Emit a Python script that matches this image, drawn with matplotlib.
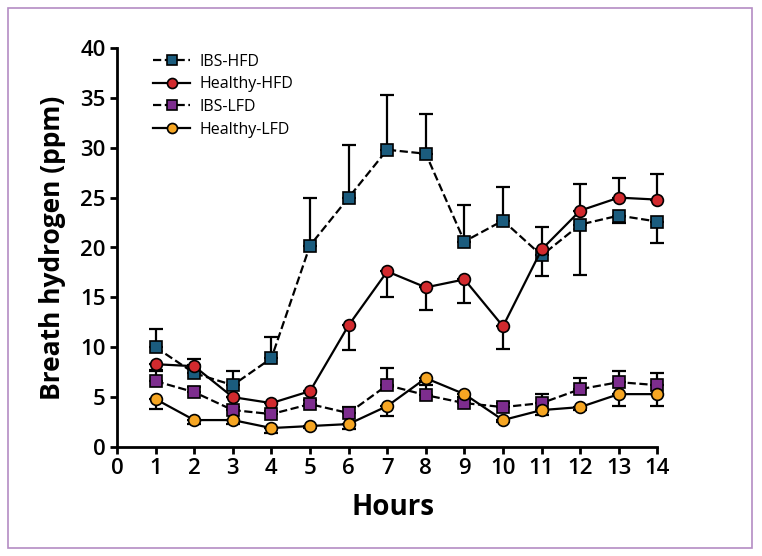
import numpy as np
import matplotlib
matplotlib.use('Agg')
import matplotlib.pyplot as plt
from matplotlib.patches import Rectangle

hours = [1, 2, 3, 4, 5, 6, 7, 8, 9, 10, 11, 12, 13, 14]

ibs_hfd = [10.0, 7.4, 6.2, 8.9, 20.2, 25.0, 29.8, 29.4, 20.6, 22.7, 19.2, 22.3, 23.2, 22.6]
ibs_hfd_lo = [0, 0, 0, 0, 0, 0, 0, 0, 0, 0, 2.1, 5.1, 0.7, 2.1]
ibs_hfd_hi = [1.8, 0.8, 1.4, 2.1, 4.8, 5.3, 5.5, 4.0, 3.7, 3.4, 0, 0, 0, 0]

healthy_hfd = [8.3, 8.1, 5.0, 4.4, 5.6, 12.2, 17.6, 16.0, 16.8, 12.1, 19.8, 23.7, 25.0, 24.8]
healthy_hfd_lo = [0.6, 0, 0, 0, 0, 2.5, 2.6, 2.3, 2.4, 2.3, 0, 0, 0, 0]
healthy_hfd_hi = [0, 0.7, 0, 0, 0, 0, 0, 0, 0, 0, 2.3, 2.7, 2.0, 2.6]

ibs_lfd = [6.6, 5.5, 3.7, 3.3, 4.3, 3.4, 6.2, 5.2, 4.4, 4.0, 4.4, 5.8, 6.5, 6.2]
ibs_lfd_lo = [0] * 14
ibs_lfd_hi = [1.0, 0.5, 0.3, 0.3, 0.4, 0.6, 1.7, 1.0, 0.3, 0.4, 0.9, 1.1, 1.1, 1.2]

healthy_lfd = [4.8, 2.7, 2.7, 1.9, 2.1, 2.3, 4.1, 6.9, 5.3, 2.7, 3.7, 4.0, 5.3, 5.3]
healthy_lfd_lo = [1.0, 0.4, 0.4, 0.5, 0.2, 0.5, 1.0, 0.3, 0.3, 0.2, 0.5, 0.3, 1.2, 1.2]
healthy_lfd_hi = [0] * 14

plt.rcParams['font.family'] = ['Open Sans', 'DejaVu Sans']

fig = plt.figure(figsize=(7.62, 5.56), dpi=100)
fig.patches.append(Rectangle((8 / 762, 8 / 556), 744 / 762, 540 / 556, transform=fig.transFigure,
                             fill=False, edgecolor='#b48cc4', linewidth=1.2))
ax = fig.add_axes([117 / 762, 1 - 447 / 556, 552 / 762, 399 / 556])

series = [
    ('IBS-HFD', ibs_hfd, ibs_hfd_lo, ibs_hfd_hi, 's', '--', '#1b5c7e'),
    ('Healthy-HFD', healthy_hfd, healthy_hfd_lo, healthy_hfd_hi, 'o', '-', '#d22a2e'),
    ('IBS-LFD', ibs_lfd, ibs_lfd_lo, ibs_lfd_hi, 's', '--', '#7d2d8e'),
    ('Healthy-LFD', healthy_lfd, healthy_lfd_lo, healthy_lfd_hi, 'o', '-', '#f6a623'),
]

for name, vals, lo, hi, mk, ls, col in series:
    ax.errorbar(hours, vals, yerr=[lo, hi], fmt='none', ecolor='black', elinewidth=1.6,
                capsize=5, capthick=1.6, zorder=2)
    ax.plot(hours, vals, linestyle=ls, color='black', linewidth=1.6, marker=mk,
            markersize=8.5, markerfacecolor=col, markeredgecolor='black',
            markeredgewidth=1.2, label=name, zorder=3)

ax.set_xlim(0, 14.3)
ax.set_ylim(0, 40)
ax.set_xticks(range(0, 15))
ax.set_yticks(range(0, 41, 5))
ax.spines['top'].set_visible(False)
ax.spines['right'].set_visible(False)
ax.spines['left'].set_linewidth(2)
ax.spines['bottom'].set_linewidth(2)
ax.spines['bottom'].set_bounds(0, 14)
ax.tick_params(axis='both', direction='out', length=5, width=2, labelsize=16, pad=3)
for lbl in ax.get_xticklabels() + ax.get_yticklabels():
    lbl.set_fontweight('semibold')
ax.set_xlabel('Hours', fontsize=20, fontweight='bold', labelpad=10)
ax.set_ylabel('Breath hydrogen (ppm)', fontsize=19, fontweight='bold', labelpad=10)

leg = ax.legend(loc='upper left', bbox_to_anchor=(0.04, 1.022), frameon=False, fontsize=11.5,
                handlelength=2.3, handletextpad=0.6, labelspacing=0.42, markerscale=0.85)

plt.savefig('out.png', dpi=100)
plt.close()
